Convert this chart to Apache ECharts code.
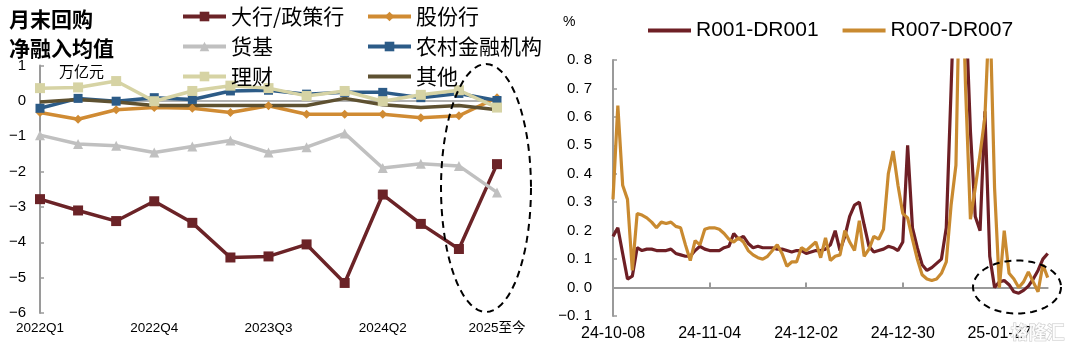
<!DOCTYPE html>
<html>
<head>
<meta charset="utf-8">
<script src="https://cdn.jsdelivr.net/npm/echarts@6/dist/echarts.min.js"></script>
<style>
html,body{margin:0;padding:0;background:#fff;}
#chart{width:1075px;height:354px;}
</style>
</head>
<body>
<div id="chart"></div>
<script>
// 左图：月末回购净融入均值（万亿元）
var quarters = ['2022Q1','2022Q2','2022Q3','2022Q4','2023Q1','2023Q2','2023Q3','2023Q4','2024Q1','2024Q2','2024Q3','2024Q4','2025至今'];
var bigBank    = [-2.78,-3.10,-3.40,-2.84,-3.45,-4.43,-4.40,-4.06,-5.15,-2.65,-3.48,-4.19,-1.79];
var jointStock = [-0.33,-0.52,-0.25,-0.19,-0.21,-0.33,-0.14,-0.38,-0.38,-0.38,-0.48,-0.42,0.09];
var moneyFund  = [-0.97,-1.22,-1.27,-1.46,-1.29,-1.12,-1.46,-1.31,-0.92,-1.90,-1.78,-1.84,-2.59];
var rural      = [-0.21,0.07,-0.01,0.09,0.04,0.28,0.30,0.19,0.24,0.24,0.09,0.21,0.01];
var wealth     = [0.36,0.38,0.56,-0.01,0.28,0.43,0.36,0.14,0.28,-0.01,0.17,0.30,-0.19];
var others     = [-0.03,0.04,-0.03,-0.13,-0.13,-0.13,-0.13,-0.13,0.07,-0.11,-0.19,-0.13,-0.25];

// 右图：R-DR 利差（%）
var days = ['24-10-08','24-10-09','24-10-10','24-10-11','24-10-12','24-10-14','24-10-15','24-10-16','24-10-17','24-10-18',
  '24-10-21','24-10-22','24-10-23','24-10-24','24-10-25','24-10-28','24-10-29','24-10-30','24-10-31','24-11-01',
  '24-11-04','24-11-05','24-11-06','24-11-07','24-11-08','24-11-11','24-11-12','24-11-13','24-11-14','24-11-15',
  '24-11-18','24-11-19','24-11-20','24-11-21','24-11-22','24-11-25','24-11-26','24-11-27','24-11-28','24-11-29',
  '24-12-02','24-12-03','24-12-04','24-12-05','24-12-06','24-12-09','24-12-10','24-12-11','24-12-12','24-12-13',
  '24-12-16','24-12-17','24-12-18','24-12-19','24-12-20','24-12-23','24-12-24','24-12-25','24-12-26','24-12-27',
  '24-12-30','24-12-31','25-01-02','25-01-03','25-01-06','25-01-07','25-01-08','25-01-09','25-01-10','25-01-13',
  '25-01-14','25-01-15','25-01-16','25-01-17','25-01-20','25-01-21','25-01-22','25-01-23','25-01-24','25-01-26',
  '25-01-27','25-02-05','25-02-06','25-02-07','25-02-08','25-02-10','25-02-11','25-02-12','25-02-13','25-02-14',
  '25-02-17'];
var r001 = [0.18,0.21,0.12,0.03,0.04,0.14,0.13,0.135,0.135,0.13,
  0.13,0.13,0.135,0.12,0.115,0.11,0.11,0.13,0.145,0.135,
  0.13,0.13,0.13,0.14,0.145,0.19,0.17,0.18,0.155,0.14,
  0.145,0.14,0.14,0.14,0.135,0.135,0.13,0.125,0.13,0.13,
  0.12,0.125,0.13,0.13,0.135,0.15,0.20,0.13,0.18,0.25,
  0.29,0.30,0.22,0.145,0.125,0.13,0.135,0.145,0.14,0.13,
  0.16,0.50,0.21,0.14,0.08,0.06,0.07,0.085,0.10,0.21,
  0.70,1.2,1.2,1.0,0.55,0.25,0.20,0.62,0.11,0.0,
  0.02,0.025,0.01,-0.015,-0.02,-0.01,0.005,0.03,0.06,0.10,
  0.12];
var r007 = [0.31,0.64,0.36,0.31,0.06,0.26,0.255,0.245,0.23,0.21,
  0.23,0.225,0.23,0.215,0.21,0.15,0.095,0.165,0.15,0.205,
  0.21,0.21,0.205,0.19,0.17,0.16,0.175,0.16,0.13,0.115,
  0.105,0.10,0.11,0.13,0.15,0.12,0.075,0.09,0.09,0.14,
  0.13,0.145,0.16,0.105,0.175,0.095,0.11,0.115,0.20,0.16,
  0.13,0.235,0.11,0.135,0.18,0.17,0.205,0.40,0.48,0.36,
  0.26,0.245,0.17,0.10,0.045,0.03,0.025,0.03,0.05,0.09,
  0.29,0.43,1.3,0.7,0.24,0.35,0.47,0.60,1.0,0.35,
  0.0,0.2,0.05,0.03,0.0,0.02,0.055,0.02,-0.015,0.08,
  0.035];

var FONT = '"Liberation Sans", "Noto Sans CJK SC", sans-serif';
var CJK = '"Noto Sans CJK SC", sans-serif';
var AXIS_GRAY = '#9a9a9a';
var NO_MARK = {color:'rgba(0,0,0,0)', borderWidth:0, opacity:0};

// 虚线椭圆（标注用）
function ellipse(cx, cy, rx, ry){
	var pts = [];
	for(var i=0;i<=72;i++){
		var a = i/72*Math.PI*2;
		pts.push([cx+rx*Math.cos(a), cy+ry*Math.sin(a)]);
	}
	return {
		type:'polyline', silent:true, z:100,
		shape:{points:pts},
		style:{stroke:'#000', lineWidth:2, lineDash:[7,5], fill:null}
	};
}

function lineSeries(name, data, color, symbol, size){
	return {
		name:name, type:'line', xAxisIndex:0, yAxisIndex:0,
		data:data,
		symbol:symbol, symbolSize:size, showSymbol:symbol!=='none',
		lineStyle:{color:color, width:3.5},
		itemStyle:{color:color, borderWidth:0},
		emphasis:{disabled:true},
		animation:false
	};
}

var mychart = echarts.init(document.getElementById('chart'));
var option = {
	animation:false,
	textStyle:{fontFamily:FONT},
	grid:[
		{left:40, top:65.5, width:457, height:247.5, outerBoundsMode:'none', containLabel:false},
		{left:613, top:60, width:434.7, height:256, outerBoundsMode:'none', containLabel:false}
	],
	legend:[
		{
			orient:'vertical', left:176, top:1, itemWidth:43, itemHeight:12, itemGap:9,
			data:['大行/政策行','货基','理财'],
			lineStyle:{width:4},
			textStyle:{fontSize:21, lineHeight:21, color:'#000', fontFamily:CJK}
		},
		{
			orient:'vertical', left:361, top:1, itemWidth:43, itemHeight:12, itemGap:9,
			data:['股份行','农村金融机构',{name:'其他', itemStyle:NO_MARK}],
			lineStyle:{width:4},
			textStyle:{fontSize:21, lineHeight:21, color:'#000', fontFamily:CJK}
		},
		{
			orient:'horizontal', left:641, top:15, itemWidth:43, itemHeight:12, itemGap:22,
			data:[{name:'R001-DR001', itemStyle:NO_MARK},{name:'R007-DR007', itemStyle:NO_MARK}],
			lineStyle:{width:4},
			textStyle:{fontSize:21, lineHeight:21, color:'#000', fontFamily:FONT}
		}
	],
	xAxis:[
		// 左图：底部标签
		{
			type:'category', gridIndex:0, data:quarters, boundaryGap:false, position:'bottom',
			axisLine:{show:false, onZero:false}, axisTick:{show:false},
			axisLabel:{interval:2, fontSize:13.5, color:'#000', margin:9, fontFamily:FONT}
		},
		// 左图：零轴
		{
			type:'category', gridIndex:0, data:quarters, boundaryGap:false, position:'top',
			axisLine:{show:true, onZero:true, lineStyle:{color:AXIS_GRAY, width:1.5}},
			axisTick:{show:false}, axisLabel:{show:false}
		},
		// 右图：底部标签
		{
			type:'category', gridIndex:1, data:days, boundaryGap:false, position:'bottom',
			axisLine:{show:false, onZero:false}, axisTick:{show:false},
			axisLabel:{interval:19, fontSize:16, color:'#000', margin:10, fontFamily:FONT}
		},
		// 右图：零轴
		{
			type:'category', gridIndex:1, data:days, boundaryGap:false, position:'top',
			axisLine:{show:true, onZero:true, lineStyle:{color:AXIS_GRAY, width:2}},
			axisTick:{show:true, interval:19, length:5, lineStyle:{color:AXIS_GRAY, width:2}},
			axisLabel:{show:false}
		}
	],
	yAxis:[
		{
			type:'value', gridIndex:0, min:-6, max:1, interval:1,
			axisLine:{show:true, lineStyle:{color:AXIS_GRAY, width:2}},
			axisTick:{show:true, inside:true, length:4, lineStyle:{color:AXIS_GRAY, width:1.5}},
			splitLine:{show:false},
			axisLabel:{fontSize:15, color:'#000', margin:14, fontFamily:FONT,
				formatter:function(v){ return v<0 ? '\u2212'+(-v) : String(v); }}
		},
		{
			type:'value', gridIndex:1, min:-0.1, max:0.8, interval:0.1,
			axisLine:{show:true, lineStyle:{color:AXIS_GRAY, width:2}},
			axisTick:{show:true, inside:true, length:4, lineStyle:{color:AXIS_GRAY, width:1.5}},
			splitLine:{show:false},
			axisLabel:{fontSize:15, color:'#000', margin:21, fontFamily:FONT,
				formatter:function(v){ return v.toFixed(1).replace('.', '. ').replace('-', '\u2212'); }}
		}
	],
	series:[
		lineSeries('大行/政策行', bigBank, '#6b2327', 'rect', 10),
		lineSeries('股份行', jointStock, '#d08b33', 'diamond', 9),
		lineSeries('货基', moneyFund, '#c0c0c0', 'triangle', 10),
		lineSeries('农村金融机构', rural, '#2c5b87', 'rect', 9),
		lineSeries('理财', wealth, '#d6d3a4', 'rect', 10),
		lineSeries('其他', others, '#5e5131', 'none', 0),
		{
			name:'R001-DR001', type:'line', xAxisIndex:2, yAxisIndex:1, data:r001,
			symbol:'none', showSymbol:false, clip:true,
			lineStyle:{color:'#6e1f25', width:3.2}, itemStyle:{color:'#6e1f25'},
			emphasis:{disabled:true}
		},
		{
			name:'R007-DR007', type:'line', xAxisIndex:2, yAxisIndex:1, data:r007,
			symbol:'none', showSymbol:false, clip:true,
			lineStyle:{color:'#c98a30', width:3.2}, itemStyle:{color:'#c98a30'},
			emphasis:{disabled:true}
		}
	],
	graphic:[
		{
			type:'text', left:9, top:5, silent:true,
			style:{text:'月末回购\n净融入均值', font:'bold 21px "Noto Sans CJK SC"', lineHeight:29, fill:'#000'}
		},
		{
			type:'text', left:59, top:64, silent:true,
			style:{text:'万亿元', font:'15px "Noto Sans CJK SC"', fill:'#000'}
		},
		{
			type:'text', left:563, top:15, silent:true,
			style:{text:'%', font:'14px "Liberation Sans"', fill:'#000'}
		},
		{
			type:'text', left:1010, top:323, silent:true, z:120,
			style:{text:'格隆汇', font:'bold 18px "Noto Sans CJK SC"', fill:'rgba(255,255,255,0.85)',
				stroke:'rgba(160,160,160,0.6)', lineWidth:1}
		},
		ellipse(486, 188, 45, 124),
		ellipse(1017, 287, 44, 26.5)
	]
};
mychart.setOption(option);
</script>
</body>
</html>
